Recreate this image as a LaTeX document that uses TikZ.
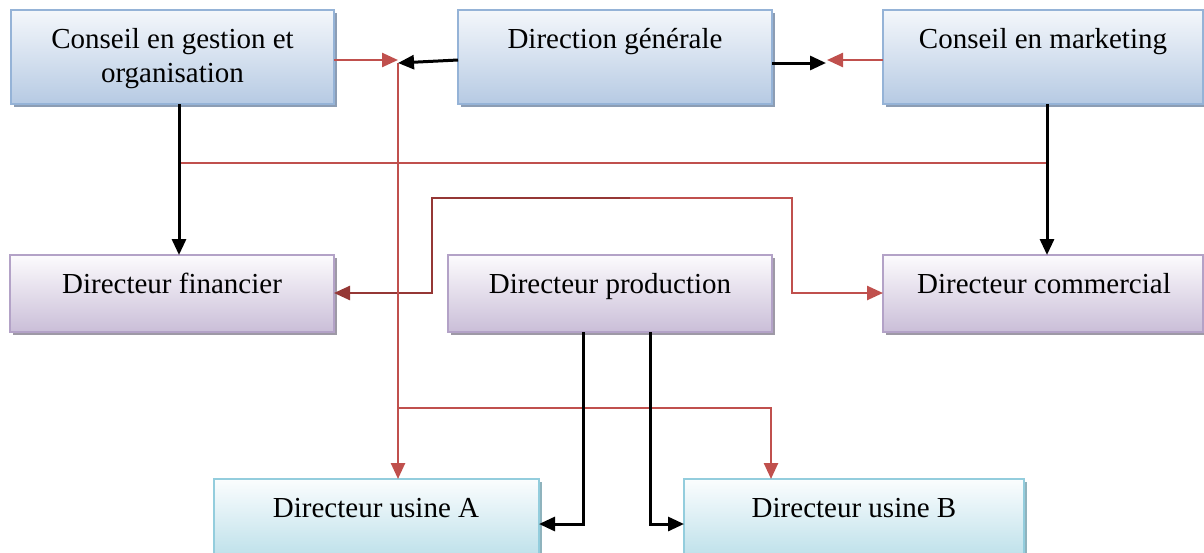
\documentclass[tikz,border=0pt]{standalone}
\usepackage{fontspec}
\setmainfont{Liberation Serif}
\usetikzlibrary{arrows.meta,shadows}
\definecolor{bluetop}{HTML}{F4F7FB}
\definecolor{bluebot}{HTML}{B6CAE3}
\definecolor{blueedge}{HTML}{95B3D7}
\definecolor{blueshadow}{HTML}{8C9DB4}
\definecolor{purtop}{HTML}{FCFBFD}
\definecolor{purbot}{HTML}{CABED8}
\definecolor{puredge}{HTML}{B3A2C7}
\definecolor{purshadow}{HTML}{9E99A6}
\definecolor{cyantop}{HTML}{FBFDFE}
\definecolor{cyanbot}{HTML}{B4DCE7}
\definecolor{cyanedge}{HTML}{93CDDD}
\definecolor{cyanshadow}{HTML}{8FB3BD}
\definecolor{redl}{HTML}{C0504D}
\definecolor{darkredl}{HTML}{953735}
\begin{document}
\begin{tikzpicture}[x=1pt,y=-1pt,
  box/.style={rectangle, inner sep=0pt, outer sep=0pt, anchor=north west, line width=2.2pt},
  bluebox/.style={box, draw=blueedge, top color=bluetop, bottom color=bluebot,
    drop shadow={shadow xshift=3pt, shadow yshift=-3pt, fill=blueshadow, opacity=1}},
  purbox/.style={box, draw=puredge, top color=purtop, bottom color=purbot,
    drop shadow={shadow xshift=3pt, shadow yshift=-3pt, fill=purshadow, opacity=1}},
  cyanbox/.style={box, draw=cyanedge, top color=cyantop, bottom color=cyanbot,
    drop shadow={shadow xshift=3pt, shadow yshift=-3pt, fill=cyanshadow, opacity=1}},
  lbl/.style={anchor=base, inner sep=0pt, font=\fontsize{29}{34}\selectfont},
  tipr/.style={-{Triangle[length=16pt,width=14pt]}},
  redline/.style={draw=redl, line width=2.5pt},
  darkline/.style={draw=darkredl, line width=2.5pt},
  blackline/.style={draw=black, line width=3pt},
]
\useasboundingbox (0,0) rectangle (1204,552);
\clip (0,0) rectangle (1204,552);

% boxes
\node[bluebox, minimum width=323pt, minimum height=94pt] (cg) at (11,10) {};
\node[bluebox, minimum width=314pt, minimum height=94pt] (dg) at (458,10) {};
\node[bluebox, minimum width=320pt, minimum height=94pt] (cm) at (883,10) {};
\node[purbox, minimum width=324pt, minimum height=77pt] (df) at (10,255) {};
\node[purbox, minimum width=324pt, minimum height=77pt] (dp) at (448,255) {};
\node[purbox, minimum width=320pt, minimum height=77pt] (dc) at (883,255) {};
\node[cyanbox, minimum width=325pt, minimum height=90pt] (ua) at (214,479) {};
\node[cyanbox, minimum width=340pt, minimum height=90pt] (ub) at (684,479) {};

% labels
\node[lbl] (cgt1) at (172.5,48) {Conseil en gestion et};
\node[lbl] (cgt2) at (172.5,82) {organisation};
\node[lbl] (dgt) at (615,48) {Direction générale};
\node[lbl] (cmt) at (1043,48) {Conseil en marketing};
\node[lbl] (dft) at (172,293) {Directeur financier};
\node[lbl] (dpt) at (610,293) {Directeur production};
\node[lbl] (dct) at (1044,293) {Directeur commercial};
\node[lbl] (uat) at (376,517) {Directeur usine A};
\node[lbl] (ubt) at (854,517) {Directeur usine B};

% helper coordinates
\coordinate (jl) at (398,60);
\coordinate (jv) at (398,63);
\coordinate (jr1) at (826,63);
\coordinate (jr2) at (827,60);
\coordinate (xl) at (179,0);
\coordinate (xr) at (1047,0);
\coordinate (h1) at (179,163);
\coordinate (h2) at (1047,163);
\coordinate (t) at (630,198);
\coordinate (yf) at (0,293);
\coordinate (b) at (398,408);
\coordinate (xb) at (771,0);
\coordinate (p1) at (583,0);
\coordinate (p2) at (650,0);
\coordinate (yu) at (0,524);

% red connectors
\draw[redline, tipr] (cg.east |- jl) -- (jl);
\draw[redline, tipr] (cm.west |- jr2) -- (jr2);
\draw[redline] (h1) -- (h2);
\draw[darkline, tipr] (t) -- (432,198) -- (432,293) -- (df.east |- yf);
\draw[redline, tipr] (t) -- (792,198) -- (792,293) -- (dc.west |- yf);
\draw[redline, tipr] (jv) -- (jv |- ua.north);
\draw[redline, tipr] (b) -| (xb |- ub.north);

% black connectors
\draw[blackline, tipr] ([yshift=-3pt]dg.west) -- (jv);
\draw[blackline, tipr] (dg.east |- jr1) -- (jr1);
\draw[blackline, tipr] (cg.south -| xl) -- (df.north -| xl);
\draw[blackline, tipr] (cm.south -| xr) -- (dc.north -| xr);
\draw[blackline, tipr] (p1 |- dp.south) |- (ua.east |- yu);
\draw[blackline, tipr] (p2 |- dp.south) |- (ub.west |- yu);
\end{tikzpicture}
\end{document}
